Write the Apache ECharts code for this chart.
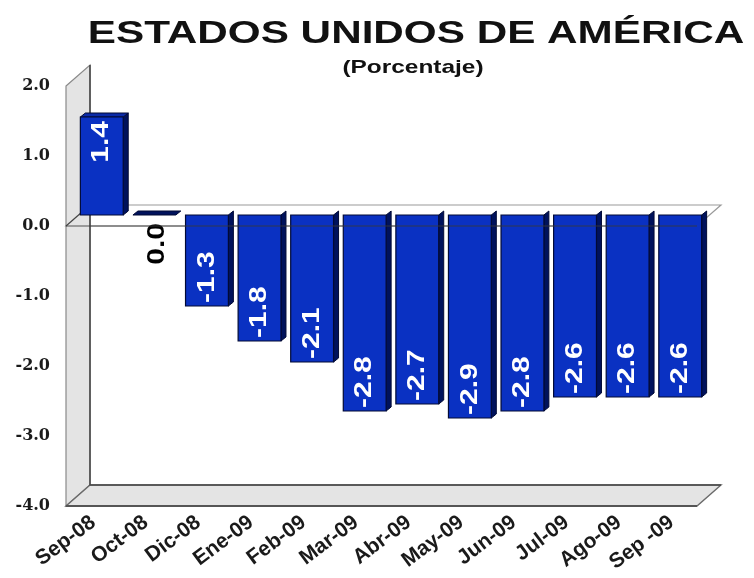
<!DOCTYPE html>
<html>
<head>
<meta charset="utf-8">
<script src="https://cdn.jsdelivr.net/npm/echarts@6/dist/echarts.min.js"></script>
<style>
  html, body { margin: 0; padding: 0; background: #ffffff; }
  #chart { width: 754px; height: 578px; }
</style>
</head>
<body>
<div id="chart"></div>
<script>
// Monthly rate, percent
const categories = ['Sep-08', 'Oct-08', 'Dic-08', 'Ene-09', 'Feb-09', 'Mar-09',
                    'Abr-09', 'May-09', 'Jun-09', 'Jul-09', 'Ago-09', 'Sep -09'];
const values = [1.4, 0.0, -1.3, -1.8, -2.1, -2.8, -2.7, -2.9, -2.8, -2.6, -2.6, -2.6];
const yMin = -4;
const yMax = 2;
const yStep = 1;
const titleText = 'ESTADOS UNIDOS DE AMÉRICA';
const subtitleText = '(Porcentaje)';

// pseudo-3D depth of the frame (front plane -> back plane)
const DEPTH_X = 24, DEPTH_Y = -21;
// depth of each bar block
const BAR_DX = 5, BAR_DY = -4;
// horizontal widening of the heading text
const TEXT_STRETCH = 1.32;

const chart = echarts.init(document.getElementById('chart'), null, { renderer: 'canvas' });

function frameItem(params, api) {
  const cs = params.coordSys;
  const x0 = cs.x, x1 = cs.x + cs.width;
  const yT = cs.y, yB = cs.y + cs.height;
  const yZ = api.coord([0, 0])[1];
  const dx = DEPTH_X, dy = DEPTH_Y;
  const gray = '#e4e4e4';
  return {
    type: 'group',
    children: [
      // zero plane
      { type: 'polygon', shape: { points: [[x0, yZ], [x0 + dx, yZ + dy], [x1 + dx, yZ + dy], [x1, yZ]] },
        style: { fill: '#ffffff', stroke: '#9a9a9a', lineWidth: 1.2 } },
      // left wall
      { type: 'polygon', shape: { points: [[x0, yT], [x0 + dx, yT + dy], [x0 + dx, yB + dy], [x0, yB]] },
        style: { fill: gray, stroke: '#8a8a8a', lineWidth: 1.2 } },
      // floor
      { type: 'polygon', shape: { points: [[x0, yB], [x0 + dx, yB + dy], [x1 + dx, yB + dy], [x1, yB]] },
        style: { fill: gray, stroke: '#6a6a6a', lineWidth: 1.4 } },
      // inner edges of wall and floor
      { type: 'polyline', shape: { points: [[x0 + dx, yT + dy], [x0 + dx, yB + dy], [x1 + dx, yB + dy]] },
        style: { fill: null, stroke: '#4a4a4a', lineWidth: 1.6 } },
      { type: 'line', shape: { x1: x0, y1: yB, x2: x1, y2: yB },
        style: { stroke: '#555555', lineWidth: 2 } },
      // zero plane edge through the wall
      { type: 'line', shape: { x1: x0, y1: yZ, x2: x0 + dx, y2: yZ + dy },
        style: { stroke: '#444444', lineWidth: 1.2 } }
    ]
  };
}

function zeroFrontItem(params, api) {
  const cs = params.coordSys;
  const yZ = api.coord([0, 0])[1];
  return {
    type: 'line',
    shape: { x1: cs.x, y1: yZ, x2: cs.x + cs.width, y2: yZ },
    style: { stroke: '#3a3a3a', lineWidth: 1.2, opacity: 0.85 }
  };
}

// category names, slanted under the floor
function categoryLabelItem(params, api) {
  const i = api.value(0);
  const p = api.coord([i, yMin]);
  return {
    type: 'text',
    x: p[0] + 1,
    y: p[1] + 14,
    rotation: 37 * Math.PI / 180,
    style: { text: categories[i], font: 'bold 21px "Liberation Sans", Arial, sans-serif',
             fill: '#1a1a1a', align: 'right', verticalAlign: 'middle' }
  };
}

function barItem(params, api) {
  const i = api.value(0);
  const v = api.value(1);
  const base = api.coord([i, 0]);
  const top = api.coord([i, v]);
  const band = api.size([1, 0])[0];
  const cx = base[0];
  const xl = cx - band * 0.455;
  const xr = cx + band * 0.36;
  const yz = base[1];
  const yv = top[1];
  const front = '#0a31c2';
  const side = '#00125c';
  const edge = '#020a35';
  const children = [];
  const label = v.toFixed(1);
  const fcx = (xl + xr) / 2;
  const labelFont = 'bold 24px "Liberation Sans", Arial, sans-serif';
  const labelScale = 1.25;

  if (v === 0) {
    children.push({ type: 'polygon',
      shape: { points: [[xl, yz], [xl + BAR_DX, yz + BAR_DY], [xr + BAR_DX, yz + BAR_DY], [xr, yz]] },
      style: { fill: side, stroke: edge, lineWidth: 1 } });
    children.push({ type: 'text', x: cx, y: yz + 8, rotation: Math.PI / 2, scaleX: labelScale,
      style: { text: label, font: labelFont, fill: '#000000', align: 'right', verticalAlign: 'middle' } });
  } else {
    const yTop = Math.min(yz, yv), yBot = Math.max(yz, yv);
    children.push({ type: 'polygon',
      shape: { points: [[xr, yTop], [xr + BAR_DX, yTop + BAR_DY], [xr + BAR_DX, yBot + BAR_DY], [xr, yBot]] },
      style: { fill: side, stroke: edge, lineWidth: 1 } });
    if (v > 0) {
      children.push({ type: 'polygon',
        shape: { points: [[xl, yTop], [xl + BAR_DX, yTop + BAR_DY], [xr + BAR_DX, yTop + BAR_DY], [xr, yTop]] },
        style: { fill: '#0a2aa8', stroke: edge, lineWidth: 1 } });
    }
    children.push({ type: 'rect', shape: { x: xl, y: yTop, width: xr - xl, height: yBot - yTop },
      style: { fill: front, stroke: edge, lineWidth: 1.2 } });
    if (v > 0) {
      children.push({ type: 'text', x: fcx, y: yv + 4, rotation: Math.PI / 2, scaleX: labelScale,
        style: { text: label, font: labelFont, fill: '#ffffff', align: 'right', verticalAlign: 'middle' } });
    } else {
      children.push({ type: 'text', x: fcx, y: yv - 3, rotation: Math.PI / 2, scaleX: labelScale,
        style: { text: label, font: labelFont, fill: '#ffffff', align: 'left', verticalAlign: 'middle' } });
    }
  }
  return { type: 'group', children: children };
}

const option = {
  backgroundColor: '#ffffff',
  animation: false,
  graphic: [
    { type: 'text', x: 416, y: 34, scaleX: TEXT_STRETCH,
      style: { text: titleText, font: 'bold 32px "Liberation Sans", Arial, sans-serif',
               fill: '#111111', align: 'center', verticalAlign: 'middle' } },
    { type: 'text', x: 413, y: 68, scaleX: TEXT_STRETCH,
      style: { text: subtitleText, font: 'bold 18.5px "Liberation Sans", Arial, sans-serif',
               fill: '#111111', align: 'center', verticalAlign: 'middle' } }
  ],
  grid: [
    { left: 66, top: 86, width: 631, height: 420 },  // front plane
    { left: 78, top: 75, width: 631, height: 420 }   // plane of the bars
  ],
  xAxis: [
    { type: 'category', gridIndex: 0, data: categories,
      axisLine: { show: false }, axisTick: { show: false }, axisLabel: { show: false } },
    { type: 'category', gridIndex: 1, data: categories, show: false }
  ],
  yAxis: [
    { type: 'value', gridIndex: 0, min: yMin, max: yMax, interval: yStep,
      axisLine: { show: false }, axisTick: { show: false }, splitLine: { show: false },
      axisLabel: { margin: 16, color: '#1a1a1a', fontFamily: '"DejaVu Serif", serif',
                   fontWeight: 'bold', fontSize: 16, formatter: (v) => v.toFixed(1) } },
    { type: 'value', gridIndex: 1, min: yMin, max: yMax, interval: yStep, show: false }
  ],
  series: [
    { type: 'custom', name: 'frame', xAxisIndex: 0, yAxisIndex: 0, z: 1,
      renderItem: frameItem, data: [[0, 0]], silent: true },
    { type: 'custom', name: 'Porcentaje', xAxisIndex: 1, yAxisIndex: 1, z: 2,
      renderItem: barItem, data: values.map((v, i) => [i, v]) },
    { type: 'custom', name: 'zero', xAxisIndex: 0, yAxisIndex: 0, z: 3,
      renderItem: zeroFrontItem, data: [[0, 0]], silent: true },
    { type: 'custom', name: 'categories', xAxisIndex: 0, yAxisIndex: 0, z: 3,
      renderItem: categoryLabelItem, data: categories.map((c, i) => [i, yMin]), silent: true }
  ]
};

chart.setOption(option);
</script>
</body>
</html>
